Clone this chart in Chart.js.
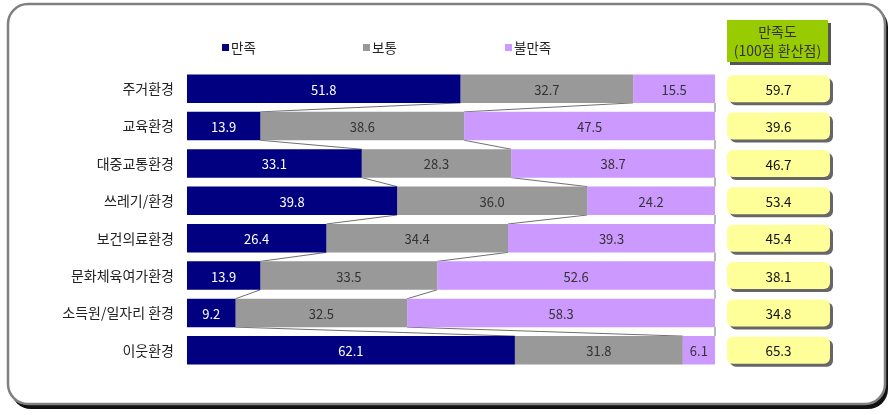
<!DOCTYPE html>
<html>
<head>
<meta charset="utf-8">
<script src="https://cdn.jsdelivr.net/npm/chart.js@4/dist/chart.umd.min.js"></script>
<style>
html,body{margin:0;padding:0;background:#fff;}
#wrap{width:893px;height:415px;position:relative;}
</style>
</head>
<body>
<div id="wrap"><canvas id="c" width="893" height="415"></canvas></div>
<script>
const categories = ['주거환경','교육환경','대중교통환경','쓰레기/환경','보건의료환경','문화체육여가환경','소득원/일자리 환경','이웃환경'];
const seriesNames = ['만족','보통','불만족'];
const satisfied = [51.8, 13.9, 33.1, 39.8, 26.4, 13.9, 9.2, 62.1];
const neutral = [32.7, 38.6, 28.3, 36.0, 34.4, 33.5, 32.5, 31.8];
const dissatisfied = [15.5, 47.5, 38.7, 24.2, 39.3, 52.6, 58.3, 6.1];
const scores = [59.7, 39.6, 46.7, 53.4, 45.4, 38.1, 34.8, 65.3];
const scoreTitle = ['만족도', '(100점 환산점)'];

const colors = ['#000080', '#999999', '#CC99FF'];
const labelColors = ['#ffffff', '#333333', '#333333'];
const FONT = '"Noto Sans CJK KR", "Noto Sans", sans-serif';

function roundRect(ctx, x, y, w, h, r) {
  ctx.beginPath();
  ctx.moveTo(x + r, y);
  ctx.lineTo(x + w - r, y);
  ctx.arcTo(x + w, y, x + w, y + r, r);
  ctx.lineTo(x + w, y + h - r);
  ctx.arcTo(x + w, y + h, x + w - r, y + h, r);
  ctx.lineTo(x + r, y + h);
  ctx.arcTo(x, y + h, x, y + h - r, r);
  ctx.lineTo(x, y + r);
  ctx.arcTo(x, y, x + r, y, r);
  ctx.closePath();
}

const framePlugin = {
  id: 'frame',
  beforeDraw(chart) {
    const ctx = chart.ctx;
    ctx.save();
    ctx.fillStyle = '#fff';
    ctx.fillRect(0, 0, chart.width, chart.height);
    roundRect(ctx, 11, 7, 877, 402, 20);
    ctx.fillStyle = '#111';
    ctx.fill();
    roundRect(ctx, 8, 4, 877, 400, 20);
    ctx.fillStyle = '#fff';
    ctx.fill();
    ctx.lineWidth = 2.5;
    ctx.strokeStyle = '#808080';
    ctx.stroke();
    ctx.restore();
  }
};

const seriesLinesPlugin = {
  id: 'seriesLines',
  beforeDatasetsDraw(chart) {
    const ctx = chart.ctx;
    ctx.save();
    ctx.strokeStyle = '#707070';
    ctx.lineWidth = 1;
    chart.data.datasets.forEach((ds, d) => {
      const meta = chart.getDatasetMeta(d);
      for (let i = 0; i < meta.data.length - 1; i++) {
        const a = meta.data[i], b = meta.data[i + 1];
        const ax = Math.min(a.x, chart.chartArea.right);
        const bx = Math.min(b.x, chart.chartArea.right);
        ctx.beginPath();
        ctx.moveTo(ax, a.y + a.height / 2);
        ctx.lineTo(bx, b.y - b.height / 2);
        ctx.stroke();
      }
    });
    ctx.restore();
  }
};

const labelsPlugin = {
  id: 'segLabels',
  afterDatasetsDraw(chart) {
    const ctx = chart.ctx;
    ctx.save();
    ctx.font = '13px ' + FONT;
    ctx.textAlign = 'center';
    ctx.textBaseline = 'middle';
    chart.data.datasets.forEach((ds, d) => {
      const meta = chart.getDatasetMeta(d);
      meta.data.forEach((el, i) => {
        const x = (Math.min(el.x, chart.chartArea.right) + el.base) / 2;
        ctx.fillStyle = labelColors[d];
        ctx.fillText(ds.data[i].toFixed(1), x, el.y + 1);
      });
    });
    ctx.restore();
  },
  afterDraw(chart) {
    const ctx = chart.ctx;
    ctx.save();
    const legendX = [222, 363, 505];
    ctx.font = '13.5px ' + FONT;
    ctx.textBaseline = 'middle';
    ctx.textAlign = 'left';
    chart.data.datasets.forEach((ds, d) => {
      ctx.fillStyle = ds.backgroundColor;
      ctx.fillRect(legendX[d], 44, 7, 7);
      ctx.fillStyle = '#222';
      ctx.fillText(ds.label, legendX[d] + 9, 48);
    });
    const bx = 727, bw = 101;
    ctx.fillStyle = '#555';
    ctx.fillRect(bx + 3, 23, bw, 42);
    ctx.fillStyle = '#99CC00';
    ctx.fillRect(bx, 20, bw, 42);
    ctx.fillStyle = '#333';
    ctx.textAlign = 'center';
    ctx.font = '14px ' + FONT;
    ctx.fillText(scoreTitle[0], bx + bw / 2, 32);
    ctx.fillText(scoreTitle[1], bx + bw / 2, 51);
    ctx.font = '13.5px ' + FONT;
    const yScale = chart.scales.y;
    scores.forEach((v, i) => {
      const cy = yScale.getPixelForValue(i);
      const h = 27;
      roundRect(ctx, bx + 3, cy - h / 2 + 3, 103, h, 6);
      ctx.fillStyle = '#666';
      ctx.fill();
      roundRect(ctx, bx, cy - h / 2, 103, h, 6);
      ctx.fillStyle = '#FFFF99';
      ctx.fill();
      ctx.fillStyle = '#111';
      ctx.fillText(v.toFixed(1), bx + 103 / 2, cy + 1);
    });
    ctx.restore();
  }
};

new Chart(document.getElementById('c'), {
  type: 'bar',
  data: {
    labels: categories,
    datasets: [
      { label: seriesNames[0], data: satisfied, backgroundColor: colors[0] },
      { label: seriesNames[1], data: neutral, backgroundColor: colors[1] },
      { label: seriesNames[2], data: dissatisfied, backgroundColor: colors[2] }
    ]
  },
  options: {
    indexAxis: 'y',
    responsive: false,
    animation: false,
    layout: { padding: { left: 0, right: 178, top: 70, bottom: 46 } },
    datasets: { bar: { barPercentage: 0.76, categoryPercentage: 1.0 } },
    plugins: { legend: { display: false }, tooltip: { enabled: false } },
    scales: {
      x: { stacked: true, min: 0, max: 100, display: false },
      y: {
        stacked: true,
        grid: { display: false, drawTicks: false },
        border: { display: false },
        ticks: { color: '#222', font: { family: FONT, size: 14 }, padding: 13 },
        afterFit(scale) { scale.width = 187; }
      }
    }
  },
  plugins: [framePlugin, seriesLinesPlugin, labelsPlugin]
});
</script>
</body>
</html>
